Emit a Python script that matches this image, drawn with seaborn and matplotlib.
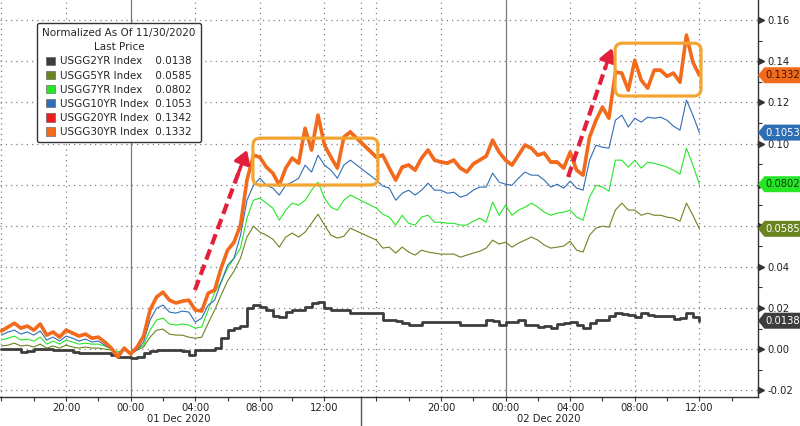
import matplotlib
matplotlib.use("Agg")
import matplotlib.pyplot as plt
import matplotlib.transforms as mtransforms
from matplotlib.patches import Patch, FancyBboxPatch, Polygon
import numpy as np
import pandas as pd
import seaborn as sns

# ---------------- data ----------------
# sampling times, hours since 30 Nov 2020 16:00 (two sessions)
hours_s1 = [round(0.4 * i, 1) for i in range(55)]          # 16:00 Nov30 -> 13:36 Dec1
hours_s2 = [round(24.0 + 0.4 * i, 1) for i in range(51)]   # 16:00 Dec1 -> 12:00 Dec2
HIDDEN_HOURS = 0.79      # time compressed away in the session break
BREAK_HOUR = 22.26

names = ["USGG2YR Index", "USGG5YR Index", "USGG7YR Index",
         "USGG10YR Index", "USGG20YR Index", "USGG30YR Index"]
colors = ["#3d3d3d", "#6a8520", "#27e627", "#2f6db5", "#ee1c1c", "#f26b1d"]

y2 = [0.0000, 0.0000, 0.0000, -0.0015, -0.0010, 0.0000, 0.0000, 0.0000, -0.0005, -0.0005,
      -0.0005, -0.0015, -0.0019, -0.0019, -0.0019, -0.0019, -0.0019, -0.0029, -0.0039, -0.0039,
      -0.0044, -0.0039, -0.0019, -0.0010, -0.0005, -0.0005, -0.0005, -0.0005, -0.0010, -0.0029,
      -0.0005, -0.0005, -0.0005, 0.0005, 0.0053, 0.0092, 0.0102, 0.0112, 0.0199, 0.0214,
      0.0204, 0.0190, 0.0160, 0.0156, 0.0180, 0.0190, 0.0190, 0.0204, 0.0224, 0.0228,
      0.0199, 0.0190, 0.0190, 0.0190, 0.0175,
      0.0175, 0.0141, 0.0141, 0.0136, 0.0126, 0.0117, 0.0117, 0.0131, 0.0131, 0.0131,
      0.0131, 0.0131, 0.0131, 0.0117, 0.0117, 0.0117, 0.0117, 0.0141, 0.0136, 0.0117,
      0.0131, 0.0131, 0.0141, 0.0117, 0.0117, 0.0107, 0.0112, 0.0102, 0.0122, 0.0126,
      0.0131, 0.0117, 0.0102, 0.0126, 0.0141, 0.0141, 0.0160, 0.0175, 0.0170, 0.0165,
      0.0156, 0.0175, 0.0165, 0.0160, 0.0160, 0.0160, 0.0146, 0.0151, 0.0175, 0.0156,
      0.0138]

y5 = [0.0015, 0.0019, 0.0029, 0.0015, 0.0019, 0.0010, 0.0024, 0.0005, 0.0015, 0.0005,
      0.0019, 0.0010, 0.0005, 0.0010, 0.0005, 0.0005, 0.0000, -0.0005, -0.0015, -0.0005,
      -0.0015, -0.0005, 0.0010, 0.0058, 0.0092, 0.0097, 0.0073, 0.0068, 0.0068, 0.0058,
      0.0053, 0.0058, 0.0126, 0.0190, 0.0263, 0.0331, 0.0379, 0.0442, 0.0545, 0.0598,
      0.0569, 0.0554, 0.0535, 0.0496, 0.0545, 0.0564, 0.0545, 0.0569, 0.0612, 0.0656,
      0.0603, 0.0554, 0.0540, 0.0549, 0.0588,
      0.0530, 0.0491, 0.0496, 0.0467, 0.0496, 0.0472, 0.0457, 0.0481, 0.0472, 0.0467,
      0.0462, 0.0462, 0.0462, 0.0447, 0.0457, 0.0467, 0.0476, 0.0491, 0.0530, 0.0511,
      0.0520, 0.0496, 0.0515, 0.0530, 0.0545, 0.0530, 0.0506, 0.0491, 0.0496, 0.0501,
      0.0525, 0.0481, 0.0472, 0.0554, 0.0588, 0.0598, 0.0593, 0.0676, 0.0710, 0.0676,
      0.0676, 0.0651, 0.0661, 0.0651, 0.0651, 0.0642, 0.0637, 0.0622, 0.0710, 0.0651,
      0.0585]

y7 = [0.0044, 0.0053, 0.0063, 0.0044, 0.0049, 0.0039, 0.0058, 0.0024, 0.0039, 0.0024,
      0.0044, 0.0034, 0.0024, 0.0029, 0.0024, 0.0024, 0.0015, 0.0000, -0.0015, 0.0000,
      -0.0015, 0.0000, 0.0019, 0.0092, 0.0141, 0.0151, 0.0122, 0.0117, 0.0122, 0.0117,
      0.0102, 0.0107, 0.0190, 0.0277, 0.0326, 0.0394, 0.0442, 0.0491, 0.0637, 0.0724,
      0.0734, 0.0710, 0.0686, 0.0627, 0.0676, 0.0710, 0.0700, 0.0724, 0.0773, 0.0812,
      0.0734, 0.0690, 0.0676, 0.0724, 0.0749,
      0.0686, 0.0656, 0.0642, 0.0603, 0.0651, 0.0612, 0.0603, 0.0642, 0.0651, 0.0617,
      0.0617, 0.0612, 0.0612, 0.0603, 0.0603, 0.0622, 0.0637, 0.0617, 0.0715, 0.0651,
      0.0700, 0.0651, 0.0676, 0.0690, 0.0710, 0.0690, 0.0666, 0.0651, 0.0661, 0.0666,
      0.0676, 0.0642, 0.0627, 0.0739, 0.0797, 0.0788, 0.0768, 0.0919, 0.0919, 0.0885,
      0.0919, 0.0880, 0.0909, 0.0904, 0.0895, 0.0885, 0.0870, 0.0851, 0.0977, 0.0895,
      0.0802]

y10 = [0.0068, 0.0083, 0.0092, 0.0073, 0.0083, 0.0068, 0.0088, 0.0044, 0.0058, 0.0039,
       0.0063, 0.0053, 0.0039, 0.0049, 0.0034, 0.0039, 0.0019, 0.0000, -0.0029, -0.0005,
       -0.0024, -0.0005, 0.0034, 0.0141, 0.0199, 0.0214, 0.0180, 0.0175, 0.0185, 0.0180,
       0.0131, 0.0151, 0.0214, 0.0238, 0.0326, 0.0408, 0.0442, 0.0554, 0.0724, 0.0797,
       0.0831, 0.0797, 0.0783, 0.0749, 0.0797, 0.0812, 0.0831, 0.0895, 0.0861, 0.0943,
       0.0895, 0.0870, 0.0831, 0.0895, 0.0919,
       0.0822, 0.0793, 0.0783, 0.0724, 0.0758, 0.0773, 0.0749, 0.0773, 0.0807, 0.0773,
       0.0773, 0.0758, 0.0763, 0.0739, 0.0749, 0.0773, 0.0788, 0.0788, 0.0856, 0.0812,
       0.0802, 0.0797, 0.0831, 0.0861, 0.0846, 0.0846, 0.0822, 0.0788, 0.0802, 0.0783,
       0.0817, 0.0783, 0.0773, 0.0919, 0.0992, 0.0982, 0.0977, 0.1113, 0.1138, 0.1080,
       0.1123, 0.1104, 0.1128, 0.1123, 0.1128, 0.1113, 0.1084, 0.1065, 0.1211, 0.1138,
       0.1053]

y20 = [0.0092, 0.0110, 0.0128, 0.0105, 0.0114, 0.0095, 0.0124, 0.0071, 0.0085, 0.0061,
       0.0094, 0.0080, 0.0066, 0.0075, 0.0056, 0.0061, 0.0036, 0.0008, -0.0036, 0.0007,
       -0.0021, 0.0012, 0.0066, 0.0192, 0.0255, 0.0280, 0.0241, 0.0226, 0.0236, 0.0241,
       0.0193, 0.0188, 0.0275, 0.0290, 0.0396, 0.0484, 0.0523, 0.0606, 0.0826, 0.0947,
       0.0937, 0.0890, 0.0860, 0.0802, 0.0884, 0.0933, 0.0909, 0.1078, 0.0973, 0.1142,
       0.0997, 0.0938, 0.0885, 0.1036, 0.1062,
       0.0940, 0.0948, 0.0886, 0.0828, 0.0890, 0.0900, 0.0876, 0.0934, 0.0973, 0.0924,
       0.0914, 0.0910, 0.0924, 0.0886, 0.0866, 0.0905, 0.0924, 0.0943, 0.1021, 0.0963,
       0.0924, 0.0900, 0.0948, 0.0997, 0.0982, 0.0948, 0.0958, 0.0914, 0.0914, 0.0886,
       0.0963, 0.0876, 0.0851, 0.1036, 0.1118, 0.1182, 0.1128, 0.1352, 0.1347, 0.1264,
       0.1410, 0.1313, 0.1274, 0.1361, 0.1361, 0.1332, 0.1347, 0.1303, 0.1532, 0.1400,
       0.1342]

y30 = [0.0088, 0.0107, 0.0126, 0.0102, 0.0112, 0.0092, 0.0122, 0.0068, 0.0083, 0.0058,
       0.0092, 0.0078, 0.0063, 0.0073, 0.0053, 0.0058, 0.0034, 0.0005, -0.0039, 0.0005,
       -0.0024, 0.0010, 0.0063, 0.0190, 0.0253, 0.0277, 0.0238, 0.0224, 0.0233, 0.0238,
       0.0190, 0.0185, 0.0272, 0.0287, 0.0394, 0.0481, 0.0520, 0.0603, 0.0822, 0.0943,
       0.0933, 0.0885, 0.0856, 0.0797, 0.0880, 0.0929, 0.0904, 0.1074, 0.0968, 0.1138,
       0.0992, 0.0933, 0.0880, 0.1031, 0.1055,
       0.0933, 0.0943, 0.0880, 0.0822, 0.0885, 0.0895, 0.0870, 0.0929, 0.0968, 0.0919,
       0.0909, 0.0904, 0.0919, 0.0880, 0.0861, 0.0900, 0.0919, 0.0938, 0.1016, 0.0958,
       0.0919, 0.0895, 0.0943, 0.0992, 0.0977, 0.0943, 0.0953, 0.0909, 0.0909, 0.0880,
       0.0958, 0.0870, 0.0846, 0.1031, 0.1113, 0.1177, 0.1123, 0.1347, 0.1342, 0.1259,
       0.1405, 0.1308, 0.1269, 0.1356, 0.1356, 0.1327, 0.1342, 0.1298, 0.1527, 0.1395,
       0.1332]

series = [y2, y5, y7, y10, y20, y30]
line_widths = [2.0, 0.8, 0.8, 0.8, 1.0, 2.6]
tag_text_colors = ["white", "white", "#0b3d0b", "white", None, "#3a1500"]

ytick_vals = [-0.02, 0.00, 0.02, 0.04, 0.06, 0.08, 0.10, 0.12, 0.14, 0.16]
ytick_labels = ["-0.02", "0.00", "0.02", "0.04", "0.06", "0.08", "0.10", "0.12", "0.14", "0.16"]
label_hours = [4, 8, 12, 16, 20, 28, 32, 36, 40, 44]
label_text = ["20:00", "00:00", "04:00", "08:00", "12:00",
              "20:00", "00:00", "04:00", "08:00", "12:00"]
midnight_hours = [8, 32]
date_labels = ["01 Dec 2020", "02 Dec 2020"]
date_label_hours = [11.0, 34.7]

# annotation geometry (hours, value)
arrows = [((11.98, 0.0287), (15.20, 0.0968)), ((35.87, 0.0837), (38.59, 0.1464))]
boxes = [((15.57, 0.0798), (24.10, 0.1026)), ((38.78, 0.1231), (44.10, 0.1488))]


def hpos(h):
    """axis position for a time in hours (session break compressed)"""
    return h if h < BREAK_HOUR else h - HIDDEN_HOURS


hours = hours_s1 + hours_s2
xpos = [hpos(h) for h in hours]

rows = []
for nm, vals in zip(names, series):
    for x, v in zip(xpos, vals):
        rows.append({"pos": x, "value": v, "series": nm})
df = pd.DataFrame(rows)

# ---------------- figure ----------------
sns.set_theme(style="white")
plt.rcParams["font.family"] = ["DejaVu Sans"]
plt.rcParams["axes.unicode_minus"] = False

fig = plt.figure(figsize=(8.0, 4.26), dpi=100)
ax = fig.add_axes([0.0, 0.0681, 0.9475, 0.9319])

XMIN, XMAX = -0.09, 46.84
YMIN, YMAX = -0.0233, 0.1698
ax.set_xlim(XMIN, XMAX)
ax.set_ylim(YMIN, YMAX)

# grid
dot = (0, (1, 3.2))
for yv in ytick_vals:
    ax.axhline(yv, color="#808080", lw=0.9, ls=dot, zorder=0)
grid_hours = [0, 4, 12, 16, 20, 24, 28, 36, 40, 44]
for h in grid_hours:
    ax.axvline(hpos(h), color="#808080", lw=0.9, ls=dot, zorder=0)
ax.axvline(BREAK_HOUR, color="#808080", lw=0.9, ls=dot, zorder=0)
for h in midnight_hours:
    ax.axvline(hpos(h), color="#7a7a7a", lw=0.9, zorder=0)

# lines
z = [3, 4, 5, 6, 7, 8]
for nm, col, lw, zz in zip(names, colors, line_widths, z):
    sub = df[df["series"] == nm]
    kw = {}
    if nm == "USGG2YR Index":
        kw["drawstyle"] = "steps-post"
    sns.lineplot(data=sub, x="pos", y="value", ax=ax, color=col, lw=lw,
                 estimator=None, sort=False, legend=False, zorder=zz, **kw)

ax.set_xlabel("")
ax.set_ylabel("")

# spines
for s in ["top", "left"]:
    ax.spines[s].set_visible(False)
for s in ["right", "bottom"]:
    ax.spines[s].set_color("#333333")
    ax.spines[s].set_linewidth(1.0)

# x ticks
tick_hours = list(range(0, 21, 2)) + list(range(24, 47, 2))
ax.set_xticks([hpos(h) for h in tick_hours])
lab_map = dict(zip(label_hours, label_text))
ax.set_xticklabels([lab_map.get(h, "") for h in tick_hours])
ax.tick_params(axis="x", bottom=True, length=3, width=0.8, color="#333333",
               labelsize=7.2, pad=1.5, labelcolor="#222222")
for h, t in zip(date_label_hours, date_labels):
    ax.text(hpos(h), -0.056, t, transform=ax.get_xaxis_transform(),
            ha="center", va="center", fontsize=7.2, color="#222222")
ax.plot([BREAK_HOUR, BREAK_HOUR], [0, -0.08], transform=ax.get_xaxis_transform(),
        color="#555555", lw=1.0, clip_on=False)

# value tags (last prices) positions
tag_vals = [vals[-1] for vals, tc in zip(series, tag_text_colors) if tc is not None]

# y ticks on the right (labels hidden where a price tag covers them)
ax.yaxis.tick_right()
ax.set_yticks(ytick_vals)
shown = [lab if min(abs(v - t) for t in tag_vals) > 0.004 else ""
         for v, lab in zip(ytick_vals, ytick_labels)]
ax.set_yticklabels(shown)
ax.set_yticks([v + 0.01 for v in ytick_vals[:-1]], minor=True)
ax.tick_params(axis="y", which="major", right=True, length=0, pad=6.5,
               labelsize=7.2, labelcolor="#222222")
ax.tick_params(axis="y", which="minor", right=True, length=3, width=0.8, color="#333333")
arrow_tr = mtransforms.offset_copy(ax.get_yaxis_transform(), fig=fig, x=2.5, y=0, units="dots")
ax.plot([1.0] * len(ytick_vals), ytick_vals, transform=arrow_tr, ls="none",
        marker=">", ms=4, color="#333333", clip_on=False)

# value tags on the right
tag_tr = mtransforms.blended_transform_factory(fig.transFigure, ax.transData)
half_h = 8.0 / 2056.0
for vals, col, tcol in zip(series, colors, tag_text_colors):
    if tcol is None:
        continue
    v = vals[-1]
    poly = Polygon([(0.9475, v), (0.9555, v + half_h), (1.0, v + half_h),
                    (1.0, v - half_h), (0.9555, v - half_h)],
                   closed=True, transform=tag_tr, facecolor=col, edgecolor="none",
                   clip_on=False, zorder=10)
    fig.add_artist(poly)
    fig.text(0.978, v, f"{v:.4f}", transform=tag_tr, ha="center", va="center",
             fontsize=7.2, color=tcol, zorder=11)

# red dashed arrows
for (h0, y0), (h1, y1) in arrows:
    x0, x1 = hpos(h0), hpos(h1)
    f = 0.86
    xm, ym = x0 + f * (x1 - x0), y0 + f * (y1 - y0)
    ax.plot([x0, xm], [y0, ym], color="#e3203c", lw=3.0, ls=(0, (2.6, 1.3)),
            solid_capstyle="butt", dash_capstyle="butt", zorder=12)
    ax.annotate("", xy=(x1, y1), xytext=(xm - 0.02 * (x1 - x0), ym - 0.02 * (y1 - y0)),
                arrowprops=dict(arrowstyle="-|>,head_length=0.55,head_width=0.35",
                                color="#e3203c", lw=2.5, shrinkA=0, shrinkB=0,
                                mutation_scale=14),
                zorder=12)

# orange highlight boxes
for (bx0, by0), (bx1, by1) in boxes:
    p = FancyBboxPatch((hpos(bx0), by0), hpos(bx1) - hpos(bx0), by1 - by0,
                       boxstyle="round,pad=0,rounding_size=0.45", mutation_aspect=0.0079,
                       facecolor="none", edgecolor="#f2a531", lw=2.3, zorder=13)
    ax.add_patch(p)

# legend
handles = [Patch(facecolor=c, edgecolor="#555555", lw=0.4) for c in colors]
labels = []
for nm, vals in zip(names, series):
    pad = "\u2007" if len(nm) == len("USGG2YR Index") else ""
    labels.append(f"{nm}{pad}  {vals[-1]:.4f}")
leg = ax.legend(handles, labels, title="Normalized As Of 11/30/2020\nLast Price",
                loc="upper left", bbox_to_anchor=(0.0488, 0.942), borderaxespad=0,
                fontsize=7.5, title_fontsize=7.5, frameon=True, fancybox=True,
                handlelength=0.85, handleheight=0.85, handletextpad=0.45,
                labelspacing=0.4, borderpad=0.5, framealpha=1.0)
leg.get_title().set_multialignment("center")
leg.get_title().set_linespacing(1.5)
leg.get_frame().set_edgecolor("#333333")
leg.get_frame().set_linewidth(1.0)
leg.set_zorder(20)

fig.savefig("out.png", dpi=100)
